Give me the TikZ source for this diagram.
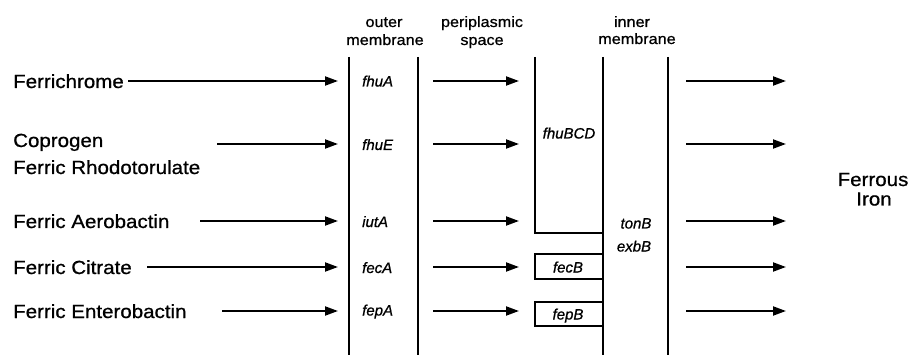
\documentclass[tikz,border=0pt]{standalone}
\usepackage{fontspec}
\usetikzlibrary{arrows.meta}
\newfontfamily\labfont[FakeStretch=1.08,FakeBold=0.8]{Liberation Sans}
\newfontfamily\genefont[FakeBold=0.8]{Liberation Sans}

\tikzset{
  biglabel/.style={font=\labfont\fontsize{19}{22}\selectfont, inner sep=0pt, anchor=base west},
  hdr/.style={font=\labfont\fontsize{15}{18}\selectfont, inner sep=0pt, anchor=base},
  ironlabel/.style={font=\labfont\fontsize{19}{22}\selectfont, inner sep=0pt, anchor=base},
  gene/.style={font=\genefont\itshape\fontsize{15}{18}\selectfont, inner sep=0pt, anchor=base west},
  genec/.style={font=\genefont\itshape\fontsize{15}{18}\selectfont, inner sep=0pt, anchor=base},
  flow/.style={line width=1.9pt, -{Triangle[length=13pt,width=9pt]}},
  membrane/.style={line width=2pt},
  carrier/.style={line width=1.7pt},
}

\begin{document}
\begin{tikzpicture}[x=1pt,y=-1pt]
\useasboundingbox (0,0) rectangle (909,355);

% column headings
\node[hdr] (om1) at (384,27) {outer};
\node[hdr] (om2) at (385,45) {membrane};
\node[hdr] (ps1) at (482,27) {periplasmic};
\node[hdr] (ps2) at (482,45) {space};
\node[hdr] (im1) at (632,27) {inner};
\node[hdr] (im2) at (637,44) {membrane};

% outer and inner membranes
\draw[membrane] (349,57) -- (349,355);
\draw[membrane] (418,57) -- (418,355);
\draw[membrane] (603,57) -- (603,355);
\draw[membrane] (668,57) -- (668,355);

% periplasmic binding proteins
\draw[carrier] (535,57) -- (535,233) -- (603,233);
\draw[carrier] (603,254) -- (535,254) -- (535,279) -- (603,279);
\draw[carrier] (603,302) -- (535,302) -- (535,326) -- (603,326);

% siderophores
\node[biglabel] (fc)  at (13,88)  {Ferrichrome};
\node[biglabel] (cop) at (13,147) {Coprogen};
\node[biglabel] (rho) at (13,174) {Ferric Rhodotorulate};
\node[biglabel] (aer) at (13,228) {Ferric Aerobactin};
\node[biglabel] (cit) at (13,274) {Ferric Citrate};
\node[biglabel] (ent) at (13,318) {Ferric Enterobactin};

% receptor genes
\node[gene] (fhuA) at (362,86.5) {fhuA};
\node[gene] (fhuE) at (362,150) {fhuE};
\node[gene] (iutA) at (362,227) {iutA};
\node[gene] (fecA) at (362,273) {fecA};
\node[gene] (fepA) at (362,315.5) {fepA};

% transport genes
\node[genec] (fhuBCD) at (569,138.5) {fhuBCD};
\node[genec] (fecB) at (568,272.5) {fecB};
\node[genec] (fepB) at (568,319.5) {fepB};
\node[genec] (tonB) at (636,228.5) {tonB};
\node[genec] (exbB) at (634,251.5) {exbB};

% product
\node[ironlabel] (fe1) at (873,186) {Ferrous};
\node[ironlabel] (fe2) at (874,205.5) {Iron};

% arrow end points
\coordinate (s1) at (128,81);
\coordinate (s2) at (217,144);
\coordinate (s3) at (200,221);
\coordinate (s4) at (147,267);
\coordinate (s5) at (222,311);
\foreach \i/\y in {1/81,2/144,3/221,4/267,5/311}{
  \coordinate (o\i) at (338,\y);
  \coordinate (p\i) at (433,\y);
  \coordinate (q\i) at (519,\y);
  \coordinate (r\i) at (686,\y);
  \coordinate (t\i) at (786,\y);
}

% flows
\foreach \i in {1,...,5}{
  \draw[flow] (s\i) -- (o\i);
  \draw[flow] (p\i) -- (q\i);
  \draw[flow] (r\i) -- (t\i);
}
\end{tikzpicture}
\end{document}
